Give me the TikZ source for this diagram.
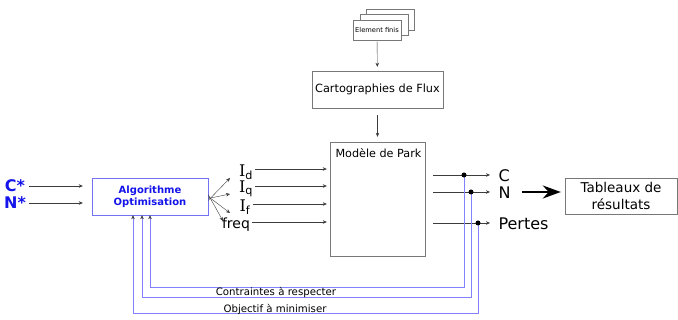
\documentclass[tikz,border=0pt]{standalone}
\usepackage{fontspec}
\setmainfont{DejaVu Sans}
\newfontfamily\serifI{DejaVu Serif}
\usetikzlibrary{arrows.meta,positioning}
\definecolor{trait}{RGB}{60,60,60}
\definecolor{cadre}{RGB}{120,120,120}
\definecolor{retour}{RGB}{130,130,255}
\definecolor{bleu}{RGB}{20,20,235}
\newcommand{\taille}[1]{\fontsize{#1}{\dimexpr#1pt*5/4\relax}\selectfont}
\tikzset{
  box/.style={draw=cadre, fill=white, align=center, inner sep=1pt},
  fl/.style={draw=trait, -{Stealth[length=4pt,width=3.5pt]}},
  fb/.style={draw=retour, -{Stealth[length=4pt,width=3.5pt,color=trait]}},
  dot/.style={circle, fill=black, inner sep=0pt, minimum size=5pt},
}
\begin{document}
\begin{tikzpicture}[x=1pt,y=-1pt]
\useasboundingbox (0,0) rectangle (678,320);
% pile "Element finis"
\draw[draw=cadre,fill=white] (366,9) rectangle (414,30);
\draw[draw=cadre,fill=white] (360,14) rectangle (408,35);
\node[box, minimum width=48, minimum height=20, font=\taille{6.7}] (ef) at (377,30.5) {Element finis};
\node[box, minimum width=131, minimum height=37, font=\taille{11.3}] (carto) at (377.5,89.5) {Cartographies de Flux};
\node[box, minimum width=95, minimum height=114] (park) at (377.5,199) {};
\node[anchor=west, font=\taille{11.2}] (parklbl) at (332,153) {Modèle de Park};
\draw[fl, shorten <=1pt, shorten >=4pt] (ef) -- (carto);
\draw[fl, shorten <=7pt, shorten >=5pt] (carto) -- (park);
% optimisation
\node[box, draw=bleu!60, text=bleu, font=\bfseries\taille{10}, minimum width=116, minimum height=37] (algo) at (150,196.5) {Algorithme\\Optimisation};
\node[text=bleu, font=\bfseries\taille{16}] (cs) at (15,186) {C*};
\node[text=bleu, font=\bfseries\taille{16}] (ns) at (15,203) {N*};
\draw[fl] (cs.east) -- ([xshift=-9]algo.west |- cs);
\draw[fl] (ns.east) -- ([xshift=-9]algo.west |- ns);
% courants
\node[font=\taille{16}, inner sep=2pt] (id) at (246,172) {{\serifI I}\textsubscript{d}};
\node[font=\taille{16}, inner sep=2pt] (iq) at (246,189) {{\serifI I}\textsubscript{q}};
\node[font=\taille{16}, inner sep=2pt] (if) at (245,207) {{\serifI I}\textsubscript{f}};
\node[font=\taille{14}, inner sep=2pt] (freq) at (236,225) {freq};
\draw[fl] ([yshift=-4]algo.east) -- (230,178);
\draw[fl] ([yshift=-2]algo.east) -- (230,194);
\draw[fl] (algo.east) -- (230,213);
\draw[fl] ([yshift=2]algo.east) -- (223,221);
\draw[fl] ([yshift=3]id.east) -- ([xshift=-3,yshift=3]id.east -| park.west);
\draw[fl] ([yshift=3]iq.east) -- ([xshift=-3,yshift=3]iq.east -| park.west);
\draw[fl] ([yshift=3]if.east) -- ([xshift=-3,yshift=3]if.east -| park.west);
\draw[fl] ([yshift=3]freq.east) -- ([xshift=-3,yshift=3]freq.east -| park.west);
% sorties
\node[font=\taille{16}, anchor=west] (c) at (495,176) {C};
\node[font=\taille{16}, anchor=west] (n) at (495,193) {N};
\node[font=\taille{16}, anchor=west] (pertes) at (495,224) {Pertes};
\coordinate (d1) at (464,175);
\coordinate (d2) at (471,192);
\coordinate (d3) at (478,223);
\draw[fl, shorten >=5pt] ([xshift=8]park.east |- d1) -- (d1 -| c.west);
\draw[fl, shorten >=5pt] ([xshift=8]park.east |- d2) -- (d2 -| n.west);
\draw[fl, shorten >=5pt] ([xshift=8]park.east |- d3) -- (d3 -| pertes.west);
% retours
\draw[fb] (d1) -- ++(0,112) -| (algo.south);
\draw[fb] (d2) -- ++(0,105) -| ([xshift=-8]algo.south);
\draw[fb] (d3) -- ++(0,90) -| ([xshift=-17]algo.south);
\node[dot] at (d1) {};
\node[dot] at (d2) {};
\node[dot] at (d3) {};
\node[font=\taille{10.2}] (contr) at (276,292) {Contraintes à respecter};
\node[font=\taille{10.2}] (obj) at (275,309) {Objectif à minimiser};
% resultats
\node[box, minimum width=112, minimum height=36, font=\taille{13.5}] (tab) at (621,196) {Tableaux de\\résultats};
\draw[line width=2.5pt, -{Stealth[length=18pt,width=13pt]}] ([xshift=-43,yshift=4]tab.west) -- ([xshift=-4,yshift=4]tab.west);
\end{tikzpicture}
\end{document}
